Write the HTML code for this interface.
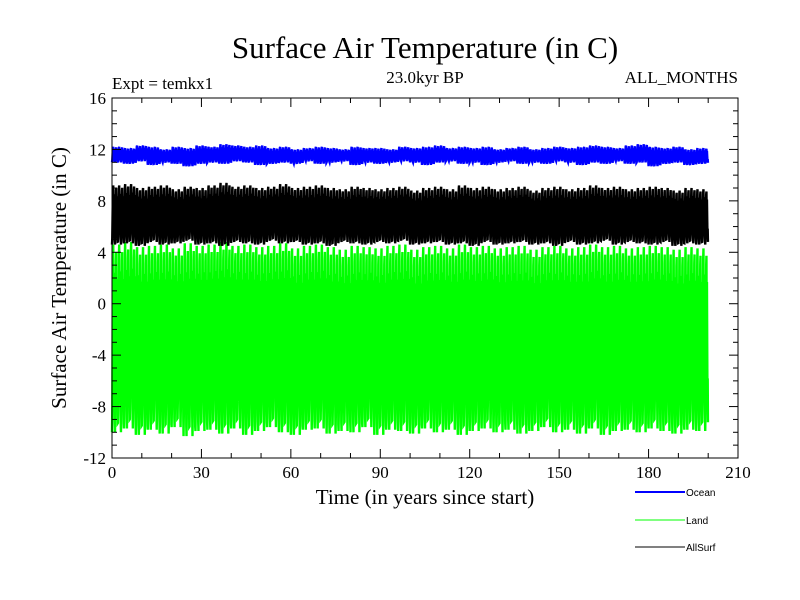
<!DOCTYPE html>
<html><head><meta charset="utf-8"><style>
body{margin:0;background:#fff;}
svg{display:block;font-family:"Liberation Serif",serif;}
</style></head><body>
<svg id="chart" width="800" height="600">
<text x="425" y="58" font-size="31" text-anchor="middle">Surface Air Temperature (in C)</text>
<text x="112" y="89" font-size="17">Expt = temkx1</text>
<text x="425" y="83" font-size="17" text-anchor="middle">23.0kyr BP</text>
<text x="738" y="83" font-size="17" text-anchor="end">ALL_MONTHS</text>
<text transform="translate(66,278) rotate(-90)" font-size="21" text-anchor="middle">Surface Air Temperature (in C)</text>
<text x="425" y="504" font-size="21" text-anchor="middle">Time (in years since start)</text>
<g id="series"></g>
<g id="axes"></g>
<g font-family="Liberation Sans, sans-serif" font-size="10">
<line x1="635" y1="492" x2="685" y2="492" stroke="#0000ff" stroke-width="2"/>
<text x="686" y="496">Ocean</text>
<line x1="635" y1="520" x2="685" y2="520" stroke="#00ff00" stroke-width="1"/>
<text x="686" y="524">Land</text>
<line x1="635" y1="547" x2="685" y2="547" stroke="#000" stroke-width="1"/>
<text x="686" y="551">AllSurf</text>
</g>
</svg>
<script>
const xTicks=[0,30,60,90,120,150,180,210];
const yTicks=[-12,-8,-4,0,4,8,12,16];
const nYears=200;
// 4-year block annual max/min estimates
const oceanMax=[12.2,12.1,12.3,12.2,12.0,12.2,12.1,12.3,12.2,12.4,12.3,12.2,12.3,12.1,12.2,12.0,12.1,12.2,12.1,12.0,12.2,12.1,12.1,12.0,12.2,12.1,12.2,12.3,12.1,12.2,12.1,12.2,12.0,12.1,12.2,12.0,12.1,12.2,12.1,12.2,12.3,12.2,12.1,12.3,12.4,12.2,12.1,12.2,12.0,12.1];
const oceanMin=[11.0,10.9,11.1,10.8,11.0,10.9,10.7,10.9,11.0,10.9,11.1,11.0,10.8,10.9,11.0,10.9,11.1,10.9,11.0,11.1,10.8,11.0,10.9,11.0,11.1,11.0,10.8,11.0,11.1,10.9,11.0,10.8,11.0,11.1,10.9,11.0,10.9,11.1,11.0,10.8,11.0,10.9,11.1,10.9,11.0,10.7,10.9,11.0,10.8,10.9];
const allMax=[9.2,9.3,9.0,9.1,9.2,8.9,9.1,9.0,9.2,9.4,9.1,9.2,9.0,9.1,9.3,9.0,9.1,9.2,9.0,8.9,9.1,9.0,8.9,9.0,9.1,8.8,9.0,9.1,8.9,9.2,9.0,9.1,8.9,9.0,9.1,8.8,9.0,9.1,8.9,9.0,9.2,9.0,9.1,8.9,9.0,9.1,9.0,8.8,9.0,8.9];
const allMin=[4.6,4.7,4.5,4.8,4.6,4.7,4.9,4.6,4.7,4.5,4.8,4.7,4.6,4.9,4.7,4.8,4.6,4.7,4.5,4.8,4.7,4.6,4.8,4.7,4.9,4.6,4.7,4.8,4.6,4.7,4.5,4.8,4.6,4.7,4.8,4.6,4.7,4.5,4.8,4.6,4.7,4.9,4.6,4.8,4.7,4.6,4.8,4.5,4.7,4.6];
const landMax=[4.6,4.8,4.4,4.5,4.6,4.3,4.7,4.5,4.6,4.8,4.5,4.6,4.4,4.5,4.7,4.3,4.5,4.6,4.4,4.2,4.5,4.4,4.3,4.5,4.6,4.2,4.4,4.5,4.3,4.6,4.4,4.5,4.3,4.4,4.5,4.2,4.4,4.5,4.3,4.4,4.6,4.4,4.5,4.3,4.4,4.5,4.4,4.2,4.4,4.3];
const landMin=[-10.0,-9.7,-10.2,-9.8,-10.1,-9.6,-10.3,-9.9,-9.8,-10.1,-9.7,-10.2,-9.9,-9.6,-10.0,-10.2,-9.8,-9.7,-10.1,-9.9,-10.0,-9.6,-10.2,-9.8,-9.9,-10.1,-9.7,-10.0,-9.8,-10.2,-9.9,-9.7,-10.0,-9.8,-10.1,-9.9,-9.6,-10.0,-9.8,-10.1,-9.7,-10.2,-9.9,-9.8,-10.0,-9.7,-9.9,-10.1,-9.8,-9.9];
const season=[0,0.1,0.4,0.7,0.95,1,0.6,0.85,0.5,0.2,0.3,0.05];
const L=112,R=738,T=98,B=458;
const xs=v=>L+(v-0)/(210-0)*(R-L);
const ys=v=>B-(v+12)/28*(B-T);
const NS="http://www.w3.org/2000/svg";
const sg=document.getElementById('series');
function drawSeries(mx,mn,color,name,w){
  let d='';
  for(let y=0;y<nYears;y++){
    const b=Math.floor(y/4);
    const hi=mx[b]-((y%2)*0.04*(mx[b]-mn[b]));
    const lo=mn[b]+((y%4)===2?0.05*(mx[b]-mn[b]):0);
    for(let m=0;m<12;m++){
      const v=lo+season[m]*(hi-lo);
      d+=(d?'L':'M')+xs(y+m/12).toFixed(2)+','+ys(v).toFixed(2);
    }
  }
  const p=document.createElementNS(NS,'path');
  p.setAttribute('d',d);p.setAttribute('fill','none');p.setAttribute('stroke',color);p.setAttribute('stroke-width',w);
  
  
  sg.appendChild(p);
}
drawSeries(landMax,landMin,'#00ff00','land-series',2.4);
drawSeries(allMax,allMin,'#000000','allsurf-series',2.4);
drawSeries(oceanMax,oceanMin,'#0000ff','ocean-series',2.4);
const ag=document.getElementById('axes');
function line(x1,y1,x2,y2,name){
  const l=document.createElementNS(NS,'line');
  l.setAttribute('x1',x1);l.setAttribute('y1',y1);l.setAttribute('x2',x2);l.setAttribute('y2',y2);
  l.setAttribute('stroke','#000');l.setAttribute('stroke-width',1);
  
  
  ag.appendChild(l);
}
function text(x,y,s,anchor,name){
  const t=document.createElementNS(NS,'text');
  t.setAttribute('x',x);t.setAttribute('y',y);t.setAttribute('font-size','17');t.setAttribute('text-anchor',anchor);
  t.textContent=s;
  
  
  ag.appendChild(t);
}
const fr=document.createElementNS(NS,'rect');
fr.setAttribute('x',L);fr.setAttribute('y',T);fr.setAttribute('width',R-L);fr.setAttribute('height',B-T);
fr.setAttribute('fill','none');fr.setAttribute('stroke','#000');


ag.appendChild(fr);
for(let v=0;v<=210;v+=10){
  const major=v%30===0,len=major?9:5,x=xs(v);
  line(x,B,x,B-len,'x-tick');line(x,T,x,T+len,'x-tick-top');
}
for(let v=-12;v<=16;v+=1){
  const major=v%4===0,len=major?9:5,y=ys(v);
  line(L,y,L+len,y,'y-tick');line(R,y,R-len,y,'y-tick-right');
}
xTicks.forEach(v=>text(xs(v),B+20,String(v),'middle','x-tick-label'));
yTicks.forEach(v=>text(L-6,ys(v)+6,String(v),'end','y-tick-label'));
</script>
</body></html>
